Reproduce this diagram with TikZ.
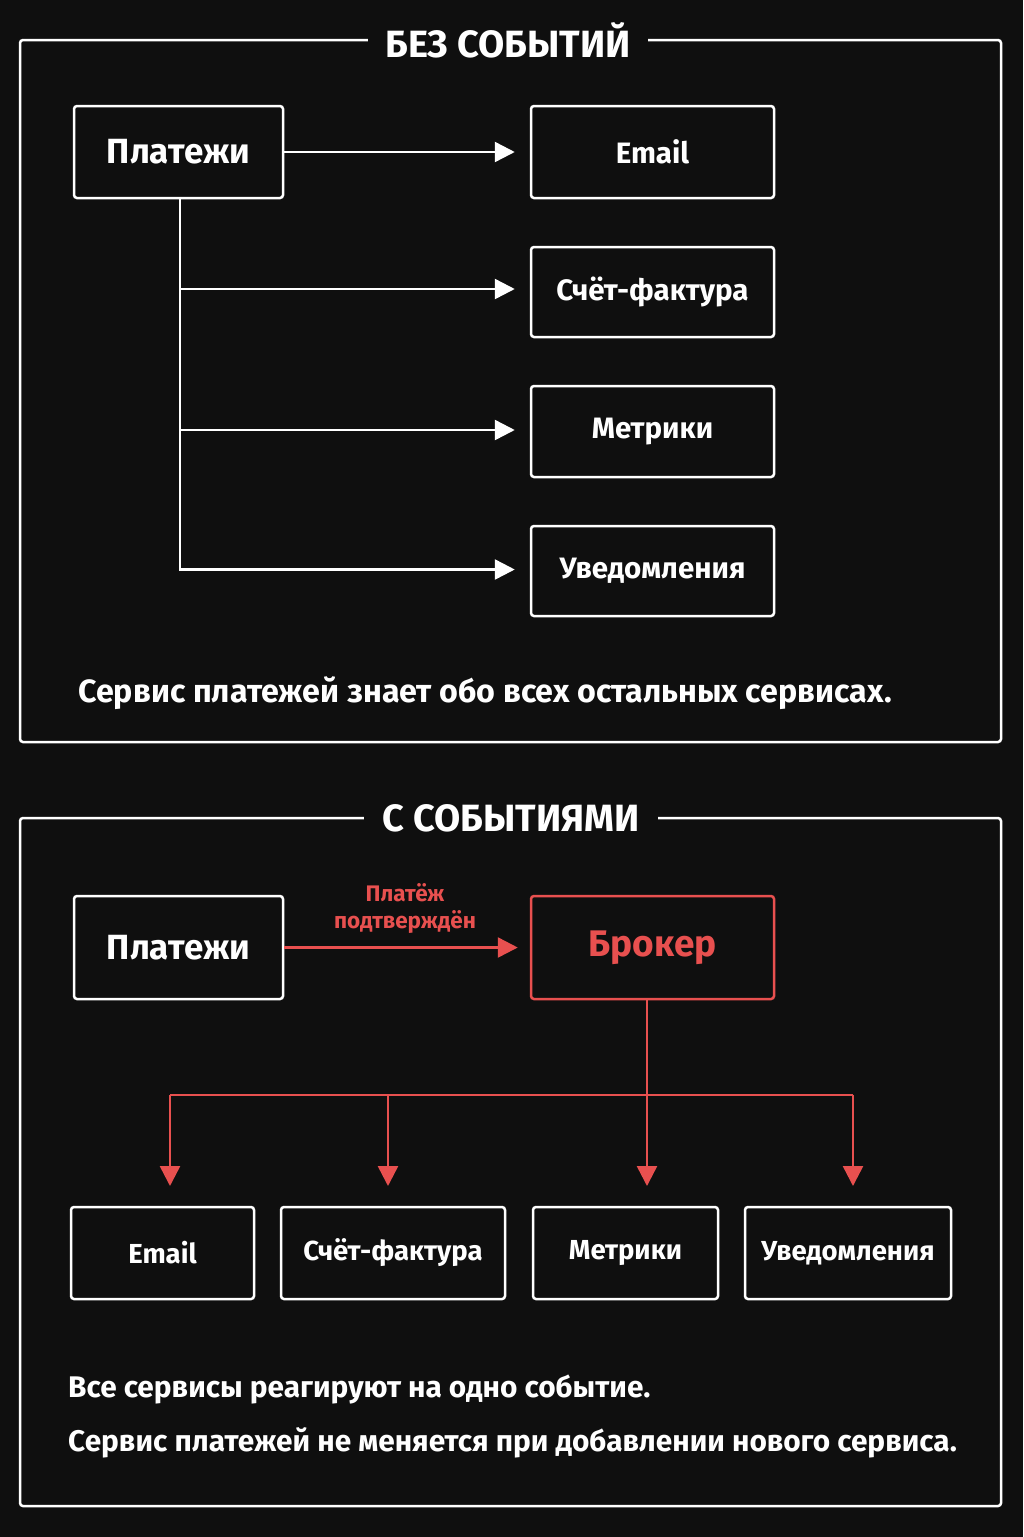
\documentclass[tikz,border=0pt]{standalone}
\usepackage{fontspec}
\setmainfont{Fira Sans}
\usetikzlibrary{arrows.meta}
\definecolor{bg}{HTML}{0F0F0F}
\definecolor{rd}{HTML}{E8504F}
\begin{document}
\begin{tikzpicture}[x=1pt,y=-1pt,
 box/.style={draw=white,line width=2.5pt,rounded corners=3pt,text=white,font=\fontsize{29.5}{32}\selectfont\bfseries,inner sep=0pt},
 con/.style={white,line width=2.5pt},
 arr/.style={con,-{Triangle[length=20pt,width=20pt]}},
 title/.style={text=white,font=\fontsize{38}{42}\selectfont\bfseries,fill=bg,inner xsep=18pt},
 captxt/.style={text=white,font=\fontsize{32.2}{34}\selectfont\bfseries,anchor=west,inner sep=0pt}]
\fill[bg] (0,0) rectangle (1023,1537);
\useasboundingbox (0,0) rectangle (1023,1537);
% top
\draw[white,line width=2.5pt,rounded corners=3pt] (20,40) rectangle (1001,742);
\node[title] (t1) at (508,40) {БЕЗ СОБЫТИЙ};
\node[box,minimum width=209pt,minimum height=92pt,font=\fontsize{35}{38}\selectfont\bfseries] (p1) at (178.5,152) {Платежи};
\node[box,minimum width=243pt,minimum height=92pt] (e1) at (652.5,152) {Email};
\node[box,minimum width=243pt,minimum height=90pt] (s1) at (652.5,292) {Счёт-фактура};
\node[box,minimum width=243pt,minimum height=91pt] (m1) at (652.5,431.5) {Метрики};
\node[box,minimum width=243pt,minimum height=90pt] (u1) at (652.5,571) {Уведомления};
\coordinate (j0) at (180,198);
\draw[arr] (p1.east) -- ([xshift=-15pt]e1.west);
\draw[con] (j0) -- (180,571);
\draw[arr] (180,289) -- ([xshift=-15pt]s1.west |- 0,289);
\draw[arr] (180,430) -- ([xshift=-15pt]m1.west |- 0,430);
\draw[arr] (180,569.5) -- ([xshift=-15pt]u1.west |- 0,569.5);
\node[captxt] (c1) at (78,693) {Сервис платежей знает обо всех остальных сервисах.};
% bottom
\draw[white,line width=2.5pt,rounded corners=3pt] (20,818) rectangle (1001,1506);
\node[title] (t2) at (511,818) {С СОБЫТИЯМИ};
\node[box,minimum width=209pt,minimum height=103pt,font=\fontsize{35}{38}\selectfont\bfseries] (p2) at (178.5,947.5) {Платежи};
\node[box,draw=rd,text=rd,minimum width=243pt,minimum height=103pt,font=\fontsize{37}{40}\selectfont\bfseries] (b) at (652.5,947.5) {Брокер};
\draw[arr,rd] (p2.east) -- ([xshift=-12pt]b.west);
\node[text=rd,font=\fontsize{22.5}{27}\selectfont\bfseries,align=center] (lab) at (405,908) {Платёж\\подтверждён};
\tikzset{sb/.style={box,minimum height=92pt,font=\fontsize{27.5}{30}\selectfont\bfseries}}
\node[sb,minimum width=183pt] (e2) at (162.5,1253) {Email};
\node[sb,minimum width=224pt] (s2) at (393,1253) {Счёт-фактура};
\node[sb,minimum width=185pt] (m2) at (625.5,1253) {Метрики};
\node[sb,minimum width=206pt] (u2) at (848,1253) {Уведомления};
\coordinate (bj) at (647,1095);
\draw[con,rd] (170,1095) -- (853,1095);
\draw[arr,rd] (647,999) -- (647,1186);
\draw[arr,rd] (170,1095) -- (170,1186);
\draw[arr,rd] (388,1095) -- (388,1186);
\draw[arr,rd] (853,1095) -- (853,1186);
\node[captxt,font=\fontsize{29.8}{34}\selectfont\bfseries] (c2) at (68,1389) {Все сервисы реагируют на одно событие.};
\node[captxt,font=\fontsize{29.8}{34}\selectfont\bfseries] (c3) at (68,1443) {Сервис платежей не меняется при добавлении нового сервиса.};
\end{tikzpicture}
\end{document}
